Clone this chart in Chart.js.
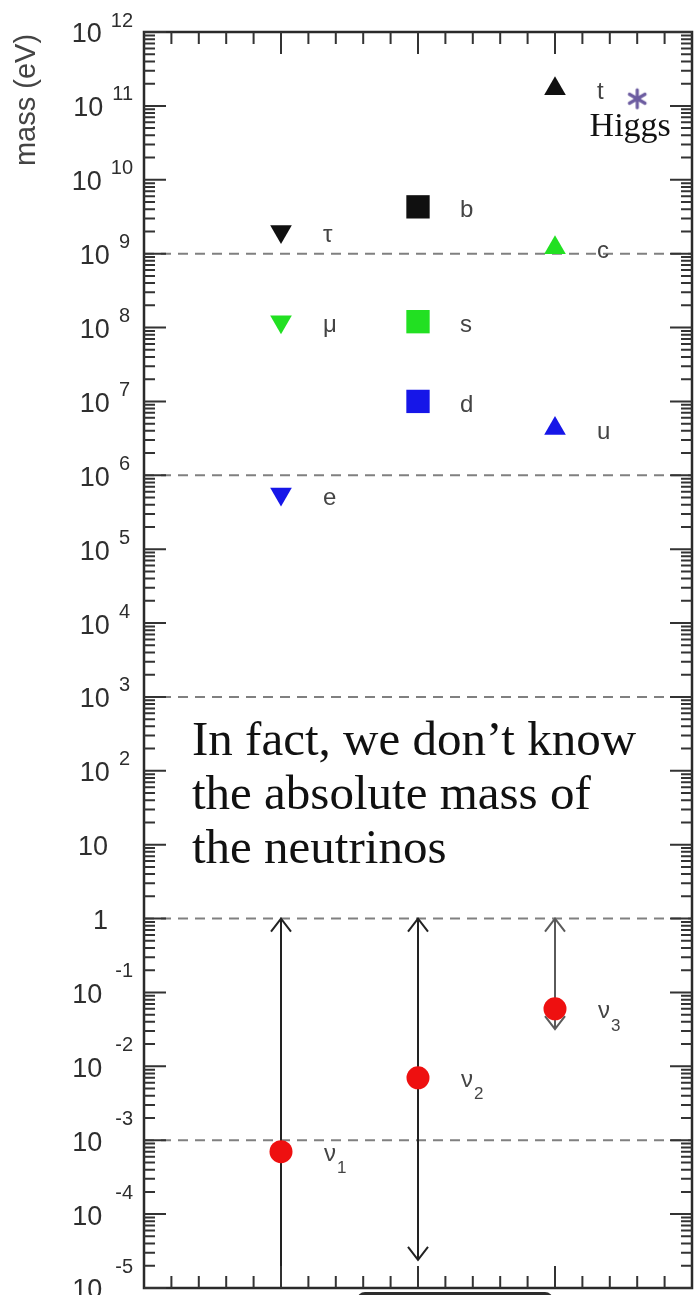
<!DOCTYPE html>
<html>
<head>
<meta charset="utf-8">
<title>Fermion masses</title>
<script src="https://cdn.jsdelivr.net/npm/chart.js@4.4.1/dist/chart.umd.min.js"></script>
<style>
  html, body { margin: 0; padding: 0; background: #fff; }
  #wrap { width: 697px; height: 1295px; overflow: hidden; }
</style>
</head>
<body>
<div id="wrap"><canvas id="massChart" width="697" height="1295"></canvas></div>
<script>
// x position of each column: leptons, down-type quarks, up-type quarks
const columnX = [1, 2, 3];

// colour per generation: 1st, 2nd, 3rd
const generationColors = ['#1616e8', '#22e022', '#101010'];

const leptonNames = ['e', 'μ', 'τ'];
const leptonMass = [5.6e5, 1.2e8, 2.0e9];

const downQuarkNames = ['d', 's', 'b'];
const downQuarkMass = [1.0e7, 1.2e8, 4.3e9];

const upQuarkNames = ['u', 'c', 't'];
const upQuarkMass = [4.3e6, 1.2e9, 1.7e11];

const neutrinoIndex = ['1', '2', '3'];
const neutrinoMass = [7e-4, 7e-3, 6e-2];
const neutrinoUpper = [1, 1, 1];
const neutrinoLower = [1e-5, 2.4e-5, 3.2e-2];
const neutrinoLowerArrow = [false, true, true];

const higgsX = 3.6;
const higgsMass = 1.25e11;

const dashedLevels = [1e9, 1e6, 1e3, 1, 1e-3];

// decades labelled on the y axis
const yExponents = [-5, -4, -3, -2, -1, 0, 1, 2, 3, 4, 5, 6, 7, 8, 9, 10, 11, 12];

// x axis ticks: minor every 0.2, long ones at the columns
const xMinorStep = 0.2;
const xRange = [0, 4];

const SANS = '"Liberation Sans", Arial, sans-serif';
const SERIF = '"Liberation Serif", "Times New Roman", serif';

// six-armed asterisk used as the Higgs marker
function asteriskStyle(color) {
    const c = document.createElement('canvas');
    c.width = 24; c.height = 24;
    const g = c.getContext('2d');
    g.strokeStyle = color;
    g.lineWidth = 3.2;
    g.lineCap = 'round';
    for (let k = 0; k < 6; k++) {
        const a = k * Math.PI / 3;
        g.beginPath();
        g.moveTo(12, 12);
        g.lineTo(12 + Math.sin(a) * 9, 12 - Math.cos(a) * 9);
        g.stroke();
    }
    return c;
}

const scatterSet = (xPos, masses, names, style, rotation, radius) => ({
    type: 'scatter',
    data: masses.map(m => ({ x: xPos, y: m })),
    names,
    pointStyle: style,
    pointRotation: rotation,
    pointRadius: radius,
    pointBackgroundColor: generationColors,
    pointBorderColor: generationColors,
    pointBorderWidth: 0,
    order: 1,
});

const datasets = [
    scatterSet(columnX[0], leptonMass, leptonNames, 'triangle', 180, 12.5),
    scatterSet(columnX[1], downQuarkMass, downQuarkNames, 'rect', 0, 16.5),
    scatterSet(columnX[2], upQuarkMass, upQuarkNames, 'triangle', 0, 12.5),
    {
        type: 'scatter',
        data: neutrinoMass.map((m, i) => ({ x: columnX[i], y: m })),
        neutrino: true,
        pointStyle: 'circle',
        pointRadius: 11.5,
        pointBackgroundColor: '#ee1010',
        pointBorderWidth: 0,
        order: 1,
    },
    {
        type: 'scatter',
        data: [{ x: higgsX, y: higgsMass }],
        pointStyle: asteriskStyle('#6c5ca0'),
        pointRadius: 12,
        order: 1,
    },
    // allowed range of each neutrino mass
    ...neutrinoUpper.map((up, i) => ({
        type: 'line',
        data: [{ x: columnX[i], y: up }, { x: columnX[i], y: neutrinoLower[i] }],
        range: i,
        borderColor: i === 2 ? '#5a5a5a' : '#222',
        borderWidth: 2,
        pointRadius: 0,
        order: 2,
    })),
    ...dashedLevels.map(level => ({
        type: 'line',
        data: [{ x: xRange[0], y: level }, { x: xRange[1], y: level }],
        borderColor: '#808080',
        borderWidth: 2,
        borderDash: [10, 7],
        pointRadius: 0,
        order: 3,
    })),
];

function chevron(ctx, x, tipY, dir) {
    ctx.beginPath();
    ctx.moveTo(x - 10, tipY + dir * 13);
    ctx.lineTo(x, tipY);
    ctx.lineTo(x + 10, tipY + dir * 13);
    ctx.stroke();
}

const massAxes = {
    id: 'massAxes',
    afterDatasetDraw(chart, args) {
        const ds = chart.data.datasets[args.index];
        if (ds.range === undefined) return;
        const { ctx } = chart;
        const [top, bottom] = args.meta.data;
        ctx.save();
        ctx.strokeStyle = ds.borderColor;
        ctx.lineWidth = 2;
        chevron(ctx, top.x, top.y, 1);
        if (neutrinoLowerArrow[ds.range]) chevron(ctx, bottom.x, bottom.y, -1);
        ctx.restore();
    },
    afterDatasetsDraw(chart) {
        const { ctx, chartArea: a, scales: { x, y } } = chart;
        ctx.save();

        // frame
        ctx.strokeStyle = '#2a2a2a';
        ctx.lineWidth = 2.5;
        ctx.strokeRect(a.left, a.top, a.right - a.left, a.bottom - a.top);

        // y ticks on both sides, pointing inward
        ctx.lineWidth = 2;
        ctx.strokeStyle = '#333';
        ctx.beginPath();
        yExponents.forEach(e => {
            const base = Math.pow(10, e);
            const py = y.getPixelForValue(base);
            ctx.moveTo(a.left, py); ctx.lineTo(a.left + 22, py);
            ctx.moveTo(a.right, py); ctx.lineTo(a.right - 22, py);
            if (e === yExponents[yExponents.length - 1]) return;
            for (let m = 2; m <= 9; m++) {
                const pm = y.getPixelForValue(m * base);
                ctx.moveTo(a.left, pm); ctx.lineTo(a.left + 11, pm);
                ctx.moveTo(a.right, pm); ctx.lineTo(a.right - 11, pm);
            }
        });
        ctx.stroke();

        // x ticks top and bottom
        ctx.beginPath();
        const steps = Math.round((xRange[1] - xRange[0]) / xMinorStep);
        for (let k = 1; k < steps; k++) {
            const v = xRange[0] + k * xMinorStep;
            const px = x.getPixelForValue(v);
            const len = columnX.some(c => Math.abs(c - v) < 1e-6) ? 22 : 12;
            ctx.moveTo(px, a.bottom); ctx.lineTo(px, a.bottom - len);
            ctx.moveTo(px, a.top); ctx.lineTo(px, a.top + len);
        }
        ctx.stroke();

        // y tick labels: 10 with raised exponent
        ctx.fillStyle = '#2e2e2e';
        ctx.textBaseline = 'middle';
        ctx.textAlign = 'right';
        yExponents.forEach(e => {
            const py = y.getPixelForValue(Math.pow(10, e));
            if (e === 0 || e === 1) {
                ctx.font = '27px ' + SANS;
                ctx.fillText(e === 0 ? '1' : '10', a.left - 36, py + 3);
                return;
            }
            const expText = String(e);
            const expRight = a.left - (expText.length > 1 ? 11 : 14);
            ctx.font = '20px ' + SANS;
            ctx.fillText(expText, expRight, e < 0 ? py - 21 : py - 11);
            const w = ctx.measureText(expText).width;
            ctx.font = '27px ' + SANS;
            ctx.fillText('10', expRight - w - (e < 0 ? 13 : 9), py + 3);
        });

        // axis title
        ctx.save();
        ctx.translate(27, 100);
        ctx.rotate(-Math.PI / 2);
        ctx.textAlign = 'center';
        ctx.fillStyle = '#444';
        ctx.font = '29px ' + SANS;
        ctx.fillText('mass (eV)', 0, 0);
        ctx.restore();

        // particle names next to the markers
        ctx.textAlign = 'left';
        ctx.fillStyle = '#444';
        chart.data.datasets.forEach((ds, i) => {
            const pts = chart.getDatasetMeta(i).data;
            if (ds.names) {
                ctx.font = '24px ' + SANS;
                pts.forEach((p, j) => ctx.fillText(ds.names[j], p.x + 42, p.y + 4));
            } else if (ds.neutrino) {
                pts.forEach((p, j) => {
                    ctx.font = '24px ' + SANS;
                    ctx.fillText('ν', p.x + 43, p.y + 3);
                    const w = ctx.measureText('ν').width;
                    ctx.font = '17px ' + SANS;
                    ctx.fillText(neutrinoIndex[j], p.x + 44 + w, p.y + 17);
                });
            }
        });

        // Higgs caption under the asterisk
        const hp = chart.getDatasetMeta(4).data[0];
        ctx.fillStyle = '#111';
        ctx.textBaseline = 'alphabetic';
        ctx.textAlign = 'center';
        ctx.font = '34px ' + SERIF;
        ctx.fillText('Higgs', hp.x - 7, hp.y + 37);

        // note about neutrino masses
        ctx.textAlign = 'left';
        ctx.font = '49px ' + SERIF;
        ['In fact, we don’t know', 'the absolute mass of', 'the neutrinos']
            .forEach((line, i) => ctx.fillText(line, a.left + 48, 755 + i * 54));

        // dark tab peeking below the frame
        ctx.fillStyle = '#2c2c2c';
        ctx.beginPath();
        ctx.roundRect(357, a.bottom + 4, 196, 20, 8);
        ctx.fill();

        ctx.restore();
    },
};

new Chart(document.getElementById('massChart'), {
    type: 'scatter',
    data: { datasets },
    options: {
        responsive: false,
        animation: false,
        devicePixelRatio: 1,
        layout: { autoPadding: false, padding: { left: 144, top: 32, right: 5, bottom: 7 } },
        scales: {
            x: { type: 'linear', min: xRange[0], max: xRange[1], display: false },
            y: { type: 'logarithmic', min: 1e-5, max: 1e12, display: false },
        },
        plugins: { legend: { display: false }, tooltip: { enabled: false } },
    },
    plugins: [massAxes],
});
</script>
</body>
</html>
